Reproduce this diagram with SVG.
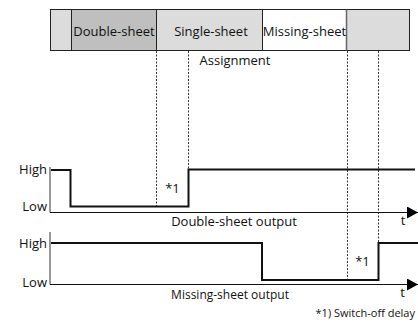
<svg xmlns="http://www.w3.org/2000/svg" width="418" height="323" viewBox="0 0 418 323">
<style>
text{font-family:"Open Sans","Noto Sans",sans-serif;font-size:13px;fill:#111}
.m{text-anchor:middle}
.r{text-anchor:end}
.dash{stroke:#333;stroke-width:1;stroke-dasharray:2,1.5;fill:none}
.wave{stroke:#111;stroke-width:2;fill:none}
.axis{stroke:#111;stroke-width:1;fill:none}
.vax{stroke:#777;stroke-width:1.5;fill:none}
.seg{stroke:#222;stroke-width:1}
</style>
<defs>
<marker id="arr" markerWidth="11" markerHeight="12" refX="11" refY="6" orient="auto" markerUnits="userSpaceOnUse">
<path d="M0,0 L11,6 L0,12 Z" fill="#000"/>
</marker>
</defs>
<g id="assignment-bar">
<rect x="50.5" y="9.5" width="21" height="41" fill="#dcdcdc" class="seg"/>
<rect id="double-sheet" x="71.5" y="9.5" width="85" height="41" fill="#bfbfbf" class="seg"/>
<rect id="single-sheet" x="156.5" y="9.5" width="106" height="41" fill="#dcdcdc" class="seg"/>
<rect id="missing-sheet" x="262.5" y="9.5" width="84" height="41" fill="#ffffff" class="seg"/>
<rect x="346.5" y="9.5" width="63" height="41" fill="#dcdcdc" class="seg"/>
<line x1="346.5" y1="9.5" x2="346.5" y2="50.5" stroke="#666" stroke-width="1.5"/>
<text x="114" y="36" class="m">Double-sheet</text>
<text x="211" y="36" class="m">Single-sheet</text>
<text x="304.5" y="36" class="m">Missing-sheet</text>
<text x="235" y="65" class="m">Assignment</text>
</g>
<g id="connectors">
<line x1="156.5" y1="51" x2="156.5" y2="206" class="dash"/>
<line x1="188.5" y1="51" x2="188.5" y2="169" class="dash"/>
<line x1="347.5" y1="51" x2="347.5" y2="279" class="dash"/>
<line x1="378.5" y1="51" x2="378.5" y2="243" class="dash"/>
</g>
<g id="double-sheet-output">
<line x1="50" y1="167" x2="50" y2="212.5" class="vax"/>
<line x1="50" y1="212.5" x2="418" y2="212.5" class="axis" marker-end="url(#arr)"/>
<polyline points="51,170 70.5,170 70.5,206.5 188.5,206.5 188.5,169.5 415,169.5" class="wave"/>
<text x="47" y="174" class="r">High</text>
<text x="47" y="211" class="r">Low</text>
<text x="172.5" y="193" class="m">*1</text>
<text x="234" y="226" class="m">Double-sheet output</text>
<text x="403" y="225" class="m">t</text>
</g>
<g id="missing-sheet-output">
<line x1="50" y1="232" x2="50" y2="284.5" class="vax"/>
<line x1="50" y1="284.5" x2="418" y2="284.5" class="axis" marker-end="url(#arr)"/>
<polyline points="51,243 262,243 262,280 378.5,280 378.5,243 418,243" class="wave"/>
<text x="47" y="248" class="r">High</text>
<text x="47" y="287" class="r">Low</text>
<text x="362.5" y="266" class="m">*1</text>
<text x="230" y="299" class="m" style="font-size:12px">Missing-sheet output</text>
<text x="402.5" y="297" class="m">t</text>
</g>
<text x="415" y="317" class="r" style="font-size:11px">*1) Switch-off delay</text>
</svg>
